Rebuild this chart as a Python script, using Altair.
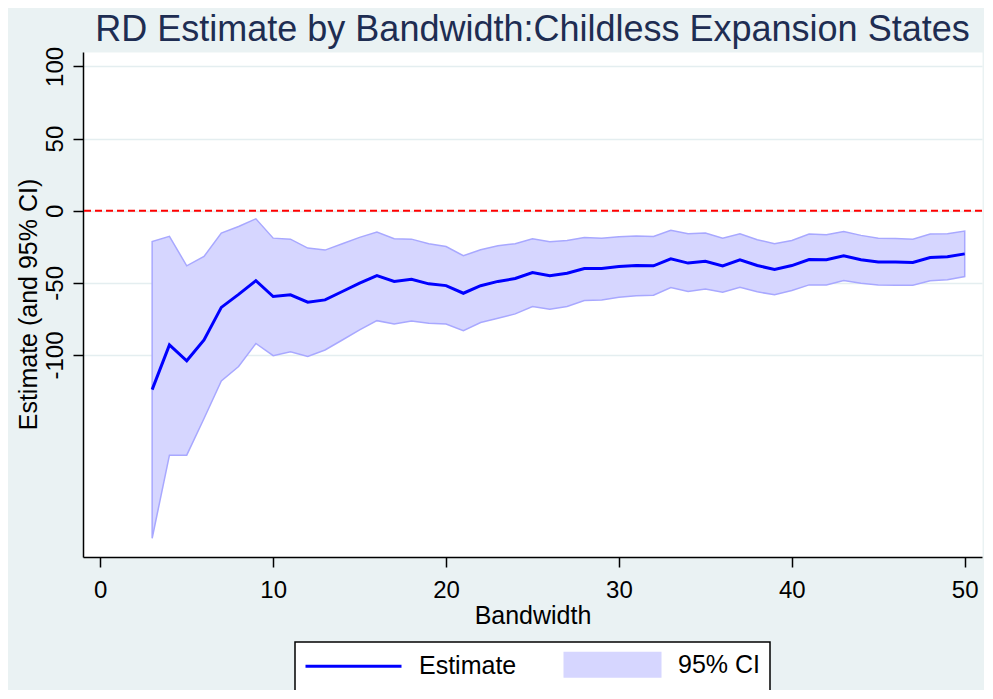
import altair as alt
import pandas as pd

bandwidth = list(range(3, 51))
estimate = [-124, -93, -104, -89.5, -67, -58, -48.5, -59.5, -58.3, -63.4,
            -61.8, -56, -50.2, -45, -49, -47.5, -50.7, -51.9, -57.2, -52,
            -49, -47, -42.8, -45.1, -43.3, -40, -40, -38.7, -38, -38.2,
            -33.3, -36.3, -35, -38.2, -34, -38, -40.7, -38, -33.8, -34,
            -31.2, -34, -35.6, -35.6, -35.9, -32.4, -31.9, -29.9]
ci_upper = [-21.3, -17.8, -38.2, -31.7, -15.5, -10.9, -5.6, -19, -19.7, -25.9,
            -27.3, -22.9, -18.5, -14.8, -19.4, -19.7, -22.9, -24.8, -31.2, -27.1,
            -24.3, -22.9, -19.4, -21.5, -20.6, -18.5, -19, -18, -17.6, -17.8,
            -13.5, -16, -15.5, -19, -16, -20.1, -22.9, -20.6, -16.2, -16.7,
            -14.4, -17.1, -19, -19.2, -19.7, -16.2, -16, -14.1]
ci_lower = [-227, -169.4, -169.4, -144, -118, -108, -92, -100.5, -97.7, -101,
            -96.5, -89.6, -82.6, -76.2, -78.5, -76.4, -78, -78.5, -83.1, -77.5,
            -74.5, -71.5, -66.4, -68.3, -66.4, -62.3, -61.8, -60, -59, -58.6,
            -53.3, -56, -54.2, -56.5, -53, -56.2, -58.3, -55.3, -51.4, -51.4,
            -48.4, -50.2, -51.4, -51.6, -51.6, -48.6, -47.9, -45.6]
series_names = ["Estimate", "95% CI"]
x_ticks = [0, 10, 20, 30, 40, 50]
y_ticks = [-100, -50, 0, 50, 100]
ref_line = [0]

df = pd.DataFrame({"bw": bandwidth, "est": estimate, "lo": ci_lower, "hi": ci_upper})
df_line = df.assign(series="Estimate")
df_area = df.assign(series="95% CI")

FONT = "Liberation Sans"

xscale = alt.Scale(domain=[-1, 51], nice=False, zero=False)
yscale = alt.Scale(domain=[-240, 110], nice=False, zero=False)
cscale = alt.Scale(domain=series_names, range=["#0000FF", "#D6D6FF"])

xaxis = alt.Axis(values=x_ticks, grid=False, title="Bandwidth",
                 labelPadding=11, labelBaseline="top",
                 titleY=66, titleBaseline="alphabetic")
yaxis = alt.Axis(values=y_ticks, grid=True, title="Estimate (and 95% CI)",
                 labelExpr="'' + datum.value",
                 labelAngle=270, labelAlign="center", labelBaseline="alphabetic",
                 labelPadding=11,
                 titleAngle=270, titleX=-47, titleY=252, titleAlign="center",
                 titleBaseline="alphabetic")

is_est = "datum.value === 'Estimate'"
legend = alt.Legend(
    title=None, orient="none", direction="horizontal",
    legendX=212, legendY=590, padding=10,
    labelOffset=89, columnPadding=43, symbolSize=576,
    fillColor="white", strokeColor="black",
    labelFontSize=25, labelFont=FONT, labelColor="black",
    symbolType=alt.ExprRef(f"{is_est} ? 'M-1,0H7' : 'M-1,-1H7V1H-1Z'"),
    symbolFillColor=alt.ExprRef(f"{is_est} ? 'transparent' : '#D6D6FF'"),
    symbolStrokeColor=alt.ExprRef(f"{is_est} ? '#0000FF' : '#A8A8FF'"),
    symbolStrokeWidth=alt.ExprRef(f"{is_est} ? 3 : 2"),
    symbolOpacity=1,
)

area = alt.Chart(df_area).mark_area(stroke="#A8A8FF", strokeWidth=1.5, opacity=1).encode(
    x=alt.X("bw:Q", scale=xscale, axis=xaxis),
    y=alt.Y("lo:Q", scale=yscale, axis=yaxis),
    y2="hi:Q",
    color=alt.Color("series:N", scale=cscale, legend=legend),
)

line = alt.Chart(df_line).mark_line(strokeWidth=3).encode(
    x=alt.X("bw:Q", scale=xscale),
    y=alt.Y("est:Q", scale=yscale),
    color=alt.Color("series:N", scale=cscale, legend=legend),
)

rule = alt.Chart(pd.DataFrame({"y": ref_line})).mark_rule(
    color="#FF0000", strokeWidth=2, strokeDash=[7, 4]
).encode(y=alt.Y("y:Q", scale=yscale))

chart = alt.layer(area, line, rule).properties(
    width=899, height=505,
    title=alt.TitleParams("RD Estimate by Bandwidth:Childless Expansion States",
                          fontSize=36, font=FONT, color="#1E2D52", fontWeight="normal",
                          anchor="middle", frame="group", offset=7, dy=10),
    autosize=alt.AutoSizeParams(type="none"),
    padding={"left": 75, "top": 44, "right": 2, "bottom": 133},
).configure(background="#EAF2F3").configure_view(
    fill="white", stroke="transparent"
).configure_axis(
    domainColor="#000000", domainWidth=1.5, tickColor="#000000", tickWidth=1.5,
    tickSize=10, labelFont=FONT, labelFontSize=24, labelColor="#000000",
    titleFont=FONT, titleFontSize=25, titleFontWeight="normal", titleColor="#000000",
    gridColor="#E4EEF0", gridWidth=1.5,
).configure_legend(strokeWidth=1.5)

chart.save("out.html", embed_options={"renderer": "svg", "actions": False})
